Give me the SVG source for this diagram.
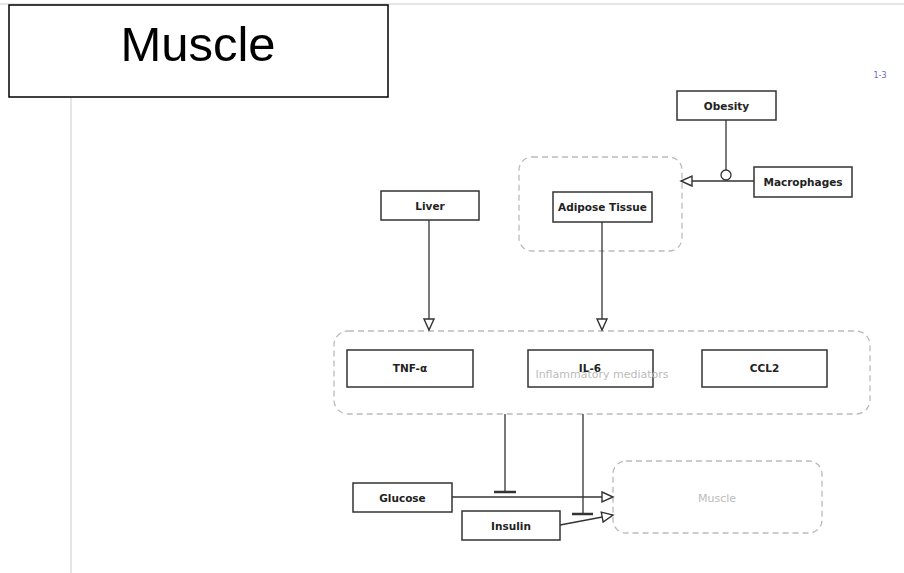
<svg xmlns="http://www.w3.org/2000/svg" width="904" height="573" viewBox="0 0 904 573">
<defs>
<style>
.node{fill:#fff;stroke:#333;stroke-width:1.5}
.lbl{font-family:"DejaVu Sans",sans-serif;font-weight:bold;font-size:10.5px;fill:#222;text-anchor:middle}
.grp{fill:none;stroke:#bbb;stroke-width:1.3;stroke-dasharray:6 4}
.glbl{font-family:"DejaVu Sans",sans-serif;font-size:11px;fill:#bbb;text-anchor:middle}
.edge{fill:none;stroke:#333;stroke-width:1.3}
</style>
<marker id="arr" markerUnits="userSpaceOnUse" markerWidth="14" markerHeight="14" refX="12" refY="6" orient="auto" viewBox="0 0 14 12">
<path d="M1,1 L12,6 L1,11 Z" fill="#fff" stroke="#333" stroke-width="1.4"/>
</marker>
</defs>
<rect width="904" height="573" fill="#fff"/>
<line x1="0" y1="4" x2="904" y2="4" stroke="#ccc" stroke-width="1"/>
<line x1="71" y1="97" x2="71" y2="573" stroke="#ccc" stroke-width="1"/>
<g id="title">
<rect x="9" y="5" width="379" height="92" fill="#fff" stroke="#000" stroke-width="1.5"/>
<text x="198" y="61" font-family="Liberation Sans,Arial,sans-serif" font-size="49" text-anchor="middle" fill="#000">Muscle</text>
</g>
<text x="880" y="78" font-family="DejaVu Sans,sans-serif" font-size="8" fill="#6666cc" text-anchor="middle">1-3</text>
<g id="group-adipose"><rect class="grp" x="519" y="157" width="163" height="94" rx="13"/></g>
<g id="group-inflammatory"><rect class="grp" x="334" y="331" width="536" height="83" rx="14"/></g>
<g id="group-muscle"><rect class="grp" x="613" y="461" width="209" height="72" rx="13"/>
<text class="glbl" x="717" y="502" font-size="11.5">Muscle</text></g>
<g id="connectors">
<line class="edge" x1="726" y1="120" x2="726" y2="170"/>
<circle cx="726" cy="175" r="5" fill="#fff" stroke="#333" stroke-width="1.3"/>
<line class="edge" x1="754" y1="181" x2="681" y2="181" marker-end="url(#arr)"/>
<line class="edge" x1="429" y1="220" x2="429" y2="330" marker-end="url(#arr)"/>
<line class="edge" x1="602" y1="222" x2="602" y2="330" marker-end="url(#arr)"/>
<line class="edge" x1="452" y1="497" x2="613" y2="497" marker-end="url(#arr)"/>
<line class="edge" x1="560" y1="525" x2="613" y2="515" marker-end="url(#arr)"/>
<line class="edge" x1="505" y1="414" x2="505" y2="492"/>
<line x1="494" y1="492" x2="516" y2="492" stroke="#333" stroke-width="2.5"/>
<line class="edge" x1="583" y1="414" x2="583" y2="514"/>
<line x1="572" y1="514" x2="593" y2="514" stroke="#333" stroke-width="2.5"/>
</g>
<g id="obesity"><rect class="node" x="677" y="91" width="99" height="29"/><text class="lbl" x="726.5" y="109.5">Obesity</text></g>
<g id="macrophages"><rect class="node" x="754" y="167" width="98" height="30"/><text class="lbl" x="803" y="185.5">Macrophages</text></g>
<g id="adipose"><rect class="node" x="553" y="192" width="99" height="30"/><text class="lbl" x="602.5" y="210.5">Adipose Tissue</text></g>
<g id="liver"><rect class="node" x="381" y="191" width="98" height="29"/><text class="lbl" x="430" y="209.5">Liver</text></g>
<g id="tnf"><rect class="node" x="347" y="350" width="126" height="37"/><text class="lbl" x="410" y="372">TNF-α</text></g>
<g id="il6"><rect class="node" x="528" y="350" width="125" height="37"/><text class="lbl" x="590" y="372">IL-6</text></g>
<text class="glbl" x="602" y="378">Inflammatory mediators</text>
<g id="ccl2"><rect class="node" x="702" y="350" width="125" height="37"/><text class="lbl" x="764.5" y="372">CCL2</text></g>
<g id="glucose"><rect class="node" x="353" y="483" width="99" height="29"/><text class="lbl" x="402.5" y="501.5">Glucose</text></g>
<g id="insulin"><rect class="node" x="462" y="511" width="98" height="29"/><text class="lbl" x="511" y="529.5">Insulin</text></g>
</svg>
